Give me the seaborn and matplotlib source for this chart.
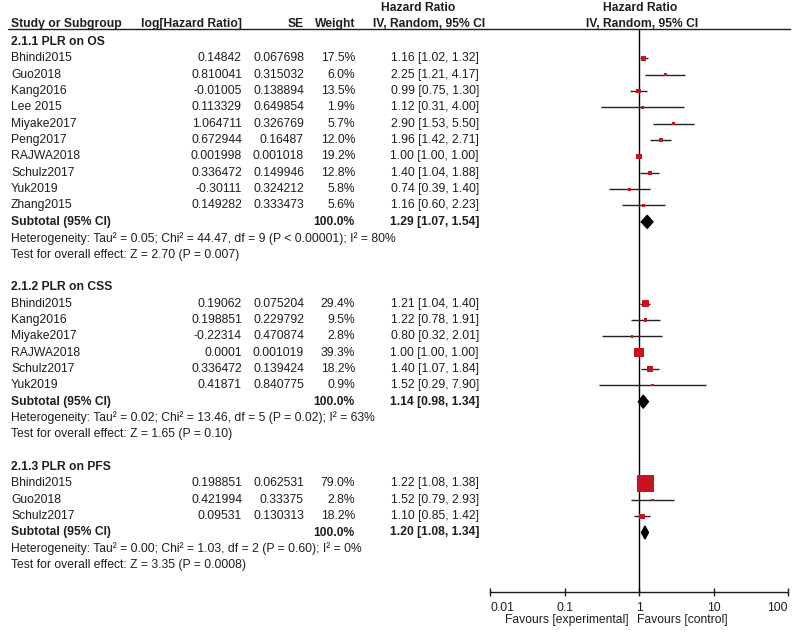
import numpy as np
import pandas as pd
import seaborn as sns
import matplotlib.pyplot as plt
from matplotlib import transforms
from matplotlib.lines import Line2D

# ---- data ----
os_study = ["Bhindi2015", "Guo2018", "Kang2016", "Lee 2015", "Miyake2017", "Peng2017",
            "RAJWA2018", "Schulz2017", "Yuk2019", "Zhang2015"]
os_loghr = [0.14842, 0.810041, -0.01005, 0.113329, 1.064711, 0.672944, 0.001998, 0.336472, -0.30111, 0.149282]
os_se = [0.067698, 0.315032, 0.138894, 0.649854, 0.326769, 0.16487, 0.001018, 0.149946, 0.324212, 0.333473]
os_weight = [17.5, 6.0, 13.5, 1.9, 5.7, 12.0, 19.2, 12.8, 5.8, 5.6]
os_hr = [1.16, 2.25, 0.99, 1.12, 2.90, 1.96, 1.00, 1.40, 0.74, 1.16]
os_lo = [1.02, 1.21, 0.75, 0.31, 1.53, 1.42, 1.00, 1.04, 0.39, 0.60]
os_hi = [1.32, 4.17, 1.30, 4.00, 5.50, 2.71, 1.00, 1.88, 1.40, 2.23]
os_total = [1.29, 1.07, 1.54]
os_het = "Heterogeneity: Tau² = 0.05; Chi² = 44.47, df = 9 (P < 0.00001); I² = 80%"
os_test = "Test for overall effect: Z = 2.70 (P = 0.007)"

css_study = ["Bhindi2015", "Kang2016", "Miyake2017", "RAJWA2018", "Schulz2017", "Yuk2019"]
css_loghr = [0.19062, 0.198851, -0.22314, 0.0001, 0.336472, 0.41871]
css_se = [0.075204, 0.229792, 0.470874, 0.001019, 0.139424, 0.840775]
css_weight = [29.4, 9.5, 2.8, 39.3, 18.2, 0.9]
css_hr = [1.21, 1.22, 0.80, 1.00, 1.40, 1.52]
css_lo = [1.04, 0.78, 0.32, 1.00, 1.07, 0.29]
css_hi = [1.40, 1.91, 2.01, 1.00, 1.84, 7.90]
css_total = [1.14, 0.98, 1.34]
css_het = "Heterogeneity: Tau² = 0.02; Chi² = 13.46, df = 5 (P = 0.02); I² = 63%"
css_test = "Test for overall effect: Z = 1.65 (P = 0.10)"

pfs_study = ["Bhindi2015", "Guo2018", "Schulz2017"]
pfs_loghr = [0.198851, 0.421994, 0.09531]
pfs_se = [0.062531, 0.33375, 0.130313]
pfs_weight = [79.0, 2.8, 18.2]
pfs_hr = [1.22, 1.52, 1.10]
pfs_lo = [1.08, 0.79, 0.85]
pfs_hi = [1.38, 2.93, 1.42]
pfs_total = [1.20, 1.08, 1.34]
pfs_het = "Heterogeneity: Tau² = 0.00; Chi² = 1.03, df = 2 (P = 0.60); I² = 0%"
pfs_test = "Test for overall effect: Z = 3.35 (P = 0.0008)"

tick_vals = [0.01, 0.1, 1, 10, 100]
tick_labels = ["0.01", "0.1", "1", "10", "100"]

groups = [
    ("2.1.1 PLR on OS", os_study, os_loghr, os_se, os_weight, os_hr, os_lo, os_hi, os_total, os_het, os_test),
    ("2.1.2 PLR on CSS", css_study, css_loghr, css_se, css_weight, css_hr, css_lo, css_hi, css_total, css_het, css_test),
    ("2.1.3 PLR on PFS", pfs_study, pfs_loghr, pfs_se, pfs_weight, pfs_hr, pfs_lo, pfs_hi, pfs_total, pfs_het, pfs_test),
]

sns.set_theme(style="white")
plt.rcParams['font.family'] = ['Liberation Sans', 'DejaVu Sans']
TXT = '#1e1e1e'
RED = '#c8141e'
FS = 8.7

W, H = 800, 633
fig = plt.figure(figsize=(8, 6.33), dpi=100)
fig.patch.set_facecolor('white')

# row r sits at pixel 42 + 16.35*r
ROW0, DY = 42, 16.35
top_px, axis_px = 29, 592
fax = fig.add_axes([490 / W, 1 - axis_px / H, 298 / W, (axis_px - top_px) / H])
fax.set_xscale('log')
fax.set_xlim(0.01, 100)
fax.set_ylim((axis_px - ROW0) / DY, (top_px - ROW0) / DY)
fax.set_facecolor('none')

tr = transforms.blended_transform_factory(fig.transFigure, fax.transData)


def put(xpx, row, s, ha='left', bold=False):
    fig.text(xpx / W, row, s, transform=tr, ha=ha, va='center', fontsize=FS,
             color=TXT, fontweight='bold' if bold else 'normal')


# build a long table of studies with their row positions
recs = []
subtot = []
r = 0
for name, st, lg, se, wt, hr, lo, hi, tot, het, test in groups:
    put(11, r, name, bold=True)
    r += 1
    for i in range(len(st)):
        recs.append(dict(study=st[i], loghr=lg[i], se=se[i], weight=wt[i],
                         hr=hr[i], lo=lo[i], hi=hi[i], row=r))
        r += 1
    subtot.append((r, tot))
    put(11, r, "Subtotal (95% CI)", bold=True)
    put(355, r, "100.0%", ha='right', bold=True)
    put(479, r, f"{tot[0]:.2f} [{tot[1]:.2f}, {tot[2]:.2f}]", ha='right', bold=True)
    r += 1
    put(11, r, het)
    r += 1
    put(11, r, test)
    r += 2

df = pd.DataFrame(recs)
for _, d in df.iterrows():
    put(11, d.row, d.study)
    put(242, d.row, f"{d.loghr}", ha='right')
    put(304, d.row, f"{d.se}", ha='right')
    put(355, d.row, f"{d.weight:.1f}%", ha='right')
    put(479, d.row, f"{d.hr:.2f} [{d.lo:.2f}, {d.hi:.2f}]", ha='right')

# column headers
hdr_row = (24 - ROW0) / DY
hdr_row2 = (8 - ROW0) / DY
put(11, hdr_row, "Study or Subgroup", bold=True)
put(242, hdr_row, "log[Hazard Ratio]", ha='right', bold=True)
put(304, hdr_row, "SE", ha='right', bold=True)
put(355, hdr_row, "Weight", ha='right', bold=True)
put(418, hdr_row2, "Hazard Ratio", ha='center', bold=True)
put(429, hdr_row, "IV, Random, 95% CI", ha='center', bold=True)
put(640, hdr_row2, "Hazard Ratio", ha='center', bold=True)
put(642, hdr_row, "IV, Random, 95% CI", ha='center', bold=True)
fig.add_artist(Line2D([8 / W, 790 / W], [1 - top_px / H] * 2, transform=fig.transFigure,
                      color=TXT, lw=1.0))

# forest: null line, CIs, weight squares, subtotal diamonds
fax.axvline(1, color='black', lw=1.0, zorder=1)
fax.hlines(df['row'], df['lo'], df['hi'], color='#222222', lw=1.0, zorder=2)
# square side grows linearly with weight (px -> pt^2 marker area)
df['msize'] = ((2 + 0.18 * df['weight']) * 0.72) ** 2
sns.scatterplot(data=df, x='hr', y='row', size='msize', sizes=(df['msize'].min(), df['msize'].max()),
                size_norm=(df['msize'].min(), df['msize'].max()), marker='s', color=RED,
                edgecolor='none', legend=False, ax=fax, zorder=3)
for row, (est, lo, hi) in subtot:
    fax.fill([lo, est, hi, est], [row, row - 0.4, row, row + 0.4], color='black', zorder=4)

fax.set_xlabel('')
fax.set_ylabel('')
fax.set_yticks([])
fax.set_xticks(tick_vals)
fax.set_xticklabels(tick_labels)
fax.xaxis.set_minor_locator(plt.NullLocator())
fax.tick_params(axis='x', direction='inout', length=6, width=1, labelsize=FS, pad=4,
                colors=TXT, bottom=True)
for lab, ha in zip(fax.get_xticklabels(), ['left', 'center', 'center', 'center', 'right']):
    lab.set_horizontalalignment(ha)
for s in ['top', 'left', 'right']:
    fax.spines[s].set_visible(False)
fax.spines['bottom'].set_color(TXT)
fax.spines['bottom'].set_linewidth(1.0)

fig.text(629 / W, 1 - 620 / H, "Favours [experimental]", ha='right', va='center', fontsize=FS, color=TXT)
fig.text(637 / W, 1 - 620 / H, "Favours [control]", ha='left', va='center', fontsize=FS, color=TXT)

fig.savefig('out.png', dpi=100, facecolor='white')
